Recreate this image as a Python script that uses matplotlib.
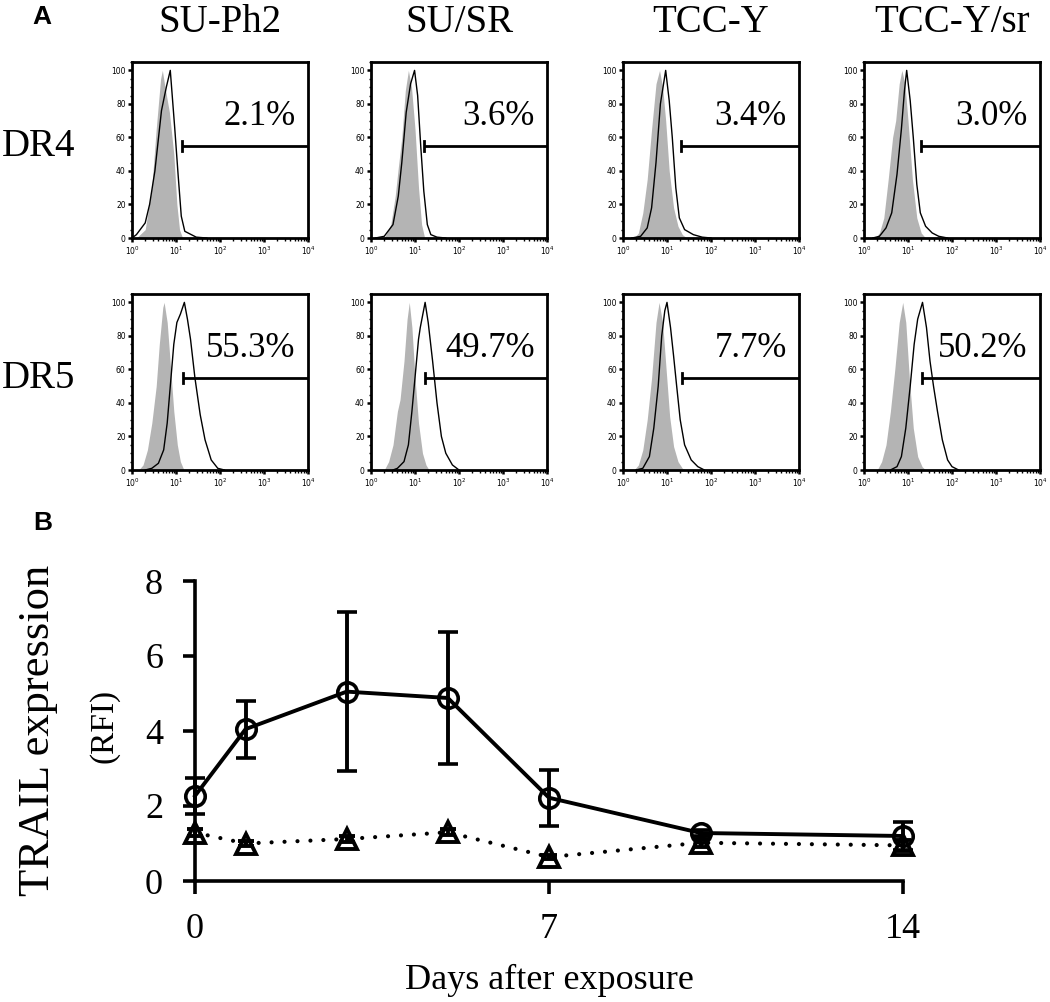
import numpy as np
import matplotlib.pyplot as plt
from matplotlib.ticker import LogLocator, NullFormatter, MultipleLocator

serif = ['Liberation Serif', 'DejaVu Serif']
sans = ['Liberation Sans', 'DejaVu Sans']

# ---------------- panel A data
cell_lines = ['SU-Ph2', 'SU/SR', 'TCC-Y', 'TCC-Y/sr']
receptors = ['DR4', 'DR5']
pct_dr4 = ['2.1%', '3.6%', '3.4%', '3.0%']
pct_dr5 = ['55.3%', '49.7%', '7.7%', '50.2%']
gate_dr4 = [13.5, 15.8, 21.0, 20.0]   # start of positive gate (FL intensity)
gate_dr5 = [14.1, 17.0, 21.4, 20.9]
gate_level = 55

# histograms: (log10 intensity, % of max)
dr4_suph2_iso = [(0.1, 0), (0.3, 5), (0.45, 30), (0.55, 65), (0.65, 95), (0.69, 100), (0.75, 90),
                 (0.85, 75), (0.95, 50), (1.02, 20), (1.08, 5), (1.15, 0)]
dr4_suph2_ab = [(0.0, 0), (0.1, 2), (0.3, 9), (0.4, 20), (0.52, 40), (0.67, 76), (0.78, 90), (0.87, 100),
                (0.97, 66), (1.05, 37), (1.12, 13), (1.2, 4), (1.46, 0.5), (1.7, 0)]
dr4_susr_iso = [(0.3, 0), (0.45, 8), (0.55, 25), (0.62, 42), (0.7, 60), (0.78, 88), (0.85, 100),
                (0.92, 90), (1.0, 65), (1.08, 30), (1.15, 8), (1.22, 0)]
dr4_susr_ab = [(0.1, 0), (0.3, 1), (0.5, 8), (0.62, 25), (0.7, 45), (0.8, 75), (0.9, 92), (0.99, 100),
               (1.06, 85), (1.13, 55), (1.2, 28), (1.28, 8), (1.36, 2), (1.5, 0.5), (1.7, 0)]
dr4_tccy_iso = [(0.25, 0), (0.35, 3), (0.45, 15), (0.55, 35), (0.65, 65), (0.75, 92), (0.83, 100),
                (0.9, 90), (0.97, 70), (1.05, 40), (1.15, 18), (1.25, 7), (1.35, 2), (1.45, 0)]
dr4_tccy_ab = [(0.2, 0), (0.4, 1), (0.55, 6), (0.65, 18), (0.75, 45), (0.85, 80), (0.97, 100), (1.05, 82),
               (1.12, 60), (1.2, 30), (1.28, 12), (1.4, 5), (1.6, 2), (1.8, 0.5), (2.0, 0)]
dr4_tccysr_iso = [(0.25, 0), (0.35, 3), (0.45, 12), (0.55, 35), (0.65, 60), (0.72, 70), (0.8, 92),
                  (0.86, 100), (0.93, 92), (1.0, 70), (1.1, 35), (1.2, 12), (1.3, 3), (1.4, 0)]
dr4_tccysr_ab = [(0.2, 0), (0.35, 1), (0.5, 6), (0.63, 15), (0.75, 38), (0.85, 65), (0.92, 88), (0.97, 100),
                 (1.05, 82), (1.12, 60), (1.2, 32), (1.28, 15), (1.4, 7), (1.55, 3), (1.7, 1), (1.9, 0)]

dr5_suph2_iso = [(0.15, 0), (0.25, 3), (0.35, 12), (0.45, 28), (0.55, 50), (0.62, 75), (0.7, 97),
                 (0.73, 100), (0.8, 88), (0.88, 60), (0.95, 35), (1.03, 15), (1.1, 5), (1.18, 0)]
dr5_suph2_ab = [(0.3, 0), (0.45, 1), (0.6, 4), (0.72, 12), (0.8, 28), (0.87, 50), (0.95, 75), (1.02, 88),
                (1.1, 93), (1.19, 100), (1.26, 90), (1.33, 78), (1.43, 55), (1.55, 33), (1.66, 18),
                (1.8, 6), (1.95, 1), (2.1, 0)]
dr5_susr_iso = [(0.3, 0), (0.4, 5), (0.5, 15), (0.6, 35), (0.66, 42), (0.75, 65), (0.82, 90), (0.87, 100),
                (0.93, 85), (1.0, 55), (1.08, 28), (1.17, 10), (1.25, 3), (1.32, 0)]
dr5_susr_ab = [(0.5, 0), (0.6, 1), (0.75, 5), (0.85, 15), (0.93, 35), (1.0, 55), (1.08, 78), (1.12, 85),
               (1.23, 100), (1.3, 88), (1.4, 65), (1.5, 40), (1.6, 20), (1.7, 10), (1.85, 3), (2.0, 0)]
dr5_tccy_iso = [(0.25, 0), (0.35, 3), (0.45, 12), (0.55, 30), (0.65, 55), (0.75, 88), (0.82, 100),
                (0.9, 88), (0.98, 60), (1.06, 32), (1.15, 14), (1.25, 5), (1.35, 1), (1.45, 0)]
dr5_tccy_ab = [(0.3, 0), (0.45, 1), (0.6, 8), (0.7, 25), (0.8, 50), (0.88, 80), (0.95, 95), (1.0, 100),
               (1.08, 85), (1.15, 68), (1.22, 50), (1.3, 30), (1.4, 15), (1.55, 6), (1.7, 2), (1.85, 0)]
dr5_tccysr_iso = [(0.3, 0), (0.4, 5), (0.5, 15), (0.6, 35), (0.7, 60), (0.8, 88), (0.88, 100),
                  (0.95, 88), (1.03, 55), (1.12, 25), (1.22, 8), (1.32, 2), (1.4, 0)]
dr5_tccysr_ab = [(0.6, 0), (0.75, 2), (0.85, 8), (0.95, 25), (1.05, 50), (1.14, 75), (1.22, 90), (1.33, 100),
                 (1.42, 85), (1.5, 65), (1.58, 50), (1.67, 35), (1.78, 18), (1.9, 6), (2.0, 2), (2.15, 0)]

# ---------------- panel B data
days = [0, 1, 3, 5, 7, 10, 14]
trail_exposed = [2.27, 4.05, 5.05, 4.88, 2.22, 1.28, 1.2]
trail_exposed_err = [0.48, 0.76, 2.12, 1.75, 0.75, 0.08, 0.38]
trail_control = [1.29, 1.0, 1.12, 1.3, 0.64, 1.02, 0.95]
trail_control_err = [0.1, 0.06, 0.08, 0.08, 0.06, 0.1, 0.15]


def histo(ax, iso, ab, gate, pct):
    xi = np.power(10.0, [p[0] for p in iso])
    yi = [p[1] for p in iso]
    xa = np.power(10.0, [p[0] for p in ab])
    ya = [p[1] for p in ab]
    ax.fill_between(xi, yi, 0, color='#b4b4b4', lw=0)
    ax.plot(xa, ya, color='k', lw=1.0)
    ax.set_xscale('log')
    ax.set_xlim(1, 1e4)
    ax.set_ylim(0, 105)
    ax.set_yticks([0, 20, 40, 60, 80, 100])
    ax.yaxis.set_minor_locator(MultipleLocator(5))
    ax.set_xticks([1, 10, 100, 1000, 10000])
    ax.set_xticklabels([r'$10^0$', r'$10^1$', r'$10^2$', r'$10^3$', r'$10^4$'])
    ax.xaxis.set_minor_locator(LogLocator(base=10, subs=np.arange(2, 10)))
    ax.xaxis.set_minor_formatter(NullFormatter())
    ax.tick_params(which='major', length=3, width=1.8, labelsize=5.5, pad=1.5)
    ax.tick_params(which='minor', length=1.8, width=1.0)
    for s in ax.spines.values():
        s.set_linewidth(2.0)
    # gate marker
    ax.plot([gate, 1e4], [gate_level, gate_level], color='k', lw=2.0, clip_on=False, solid_capstyle='butt')
    ax.plot([gate, gate], [gate_level - 3, gate_level + 3], color='k', lw=2.0, clip_on=False)
    ax.text(0.93, 0.69, pct, transform=ax.transAxes, ha='right', va='center',
            fontsize=25, family=serif)


fig = plt.figure(figsize=(10.5, 10.02), dpi=100)
W, H = 1050.0, 1002.0

col_left = [132, 371, 623, 864]
row_bottom = [238, 470]
pw, ph = 176, 176

panels = [[dr4_suph2_iso, dr4_suph2_ab], [dr4_susr_iso, dr4_susr_ab],
          [dr4_tccy_iso, dr4_tccy_ab], [dr4_tccysr_iso, dr4_tccysr_ab],
          [dr5_suph2_iso, dr5_suph2_ab], [dr5_susr_iso, dr5_susr_ab],
          [dr5_tccy_iso, dr5_tccy_ab], [dr5_tccysr_iso, dr5_tccysr_ab]]
gates = [gate_dr4, gate_dr5]
pcts = [pct_dr4, pct_dr5]

for r in range(2):
    for c in range(4):
        ax = fig.add_axes([col_left[c] / W, 1 - row_bottom[r] / H, pw / W, ph / H])
        iso, ab = panels[r * 4 + c]
        histo(ax, iso, ab, gates[r][c], pcts[r][c])

for c, name in enumerate(cell_lines):
    fig.text((col_left[c] + pw / 2) / W, 1 - 22 / H, name, ha='center', va='center',
             fontsize=28, family=serif)
for r, name in enumerate(receptors):
    fig.text(2 / W, 1 - [146, 378][r] / H, name, ha='left', va='center', fontsize=28, family=serif)

fig.text(32 / W, 1 - 5 / H, 'A', ha='left', va='top', fontsize=19, weight='bold', family=sans)
fig.text(33 / W, 1 - 511 / H, 'B', ha='left', va='top', fontsize=19, weight='bold', family=sans)

# ======================== Panel B
axb = fig.add_axes([195 / W, 1 - 881 / H, 708 / W, 300 / H])
eb1 = axb.errorbar(days, trail_exposed, yerr=trail_exposed_err, color='k', lw=2.8, marker='o',
                   ms=14, mfc='none', mew=2.6, capsize=7, capthick=2.8, elinewidth=2.8, zorder=4)
eb2 = axb.errorbar(days, trail_control, yerr=trail_control_err, color='k', lw=3.0,
                   linestyle=(0, (0.01, 3.1)), dash_capstyle='round', marker='^', ms=14,
                   mfc='none', mew=2.8, capsize=6, capthick=2.8, elinewidth=2.8, zorder=3)
for eb in [eb1, eb2]:
    for art in eb.get_children():
        art.set_clip_on(False)

axb.set_xlim(0, 14)
axb.set_ylim(0, 8)
axb.set_xticks([0, 7, 14])
axb.set_yticks([0, 2, 4, 6, 8])
axb.spines['top'].set_visible(False)
axb.spines['right'].set_visible(False)
for s in ['left', 'bottom']:
    axb.spines[s].set_linewidth(2.6)
axb.tick_params(length=9, width=2.6, labelsize=26, pad=14)
for lab in axb.get_xticklabels() + axb.get_yticklabels():
    lab.set_family(serif)

fig.text(38 / W, 1 - 730 / H, 'TRAIL expression', rotation=90, ha='center', va='center',
         fontsize=32, family=serif)
fig.text(104 / W, 1 - 726 / H, '(RFI)', rotation=90, ha='center', va='center',
         fontsize=24, family=serif)
fig.text(549 / W, 1 - 980 / H, 'Days after exposure', ha='center', va='center',
         fontsize=26, family=serif)

fig.savefig('out.png', dpi=100)
